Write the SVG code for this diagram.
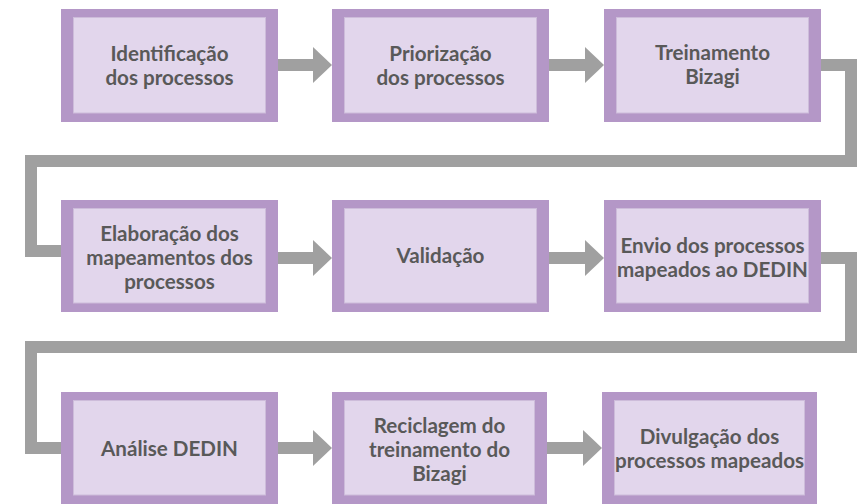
<svg xmlns="http://www.w3.org/2000/svg" width="857" height="504" viewBox="0 0 857 504">
<style>
.outer{fill:#b497c7}
.inner{fill:#e2d6ec;stroke:#cdbcda;stroke-width:1}
.lbl{font-family:Lato,"Liberation Sans",sans-serif;font-weight:700;font-size:20.6px;fill:#595959;text-anchor:middle}
.conn{fill:none;stroke:#a0a0a0;stroke-width:12;stroke-linejoin:miter;stroke-linecap:butt}
</style>
<defs>
<marker id="head" markerUnits="userSpaceOnUse" markerWidth="19" markerHeight="36" refX="0" refY="18" orient="auto" viewBox="0 0 19 36">
<path d="M0,0 L19,18 L0,36 Z" fill="#a0a0a0"/>
</marker>
</defs>
<rect width="857" height="504" fill="#ffffff"/>
<g id="connectors">
<line class="conn" x1="278" y1="65" x2="313" y2="65" marker-end="url(#head)"/>
<line class="conn" x1="549" y1="65" x2="585" y2="65" marker-end="url(#head)"/>
<polyline class="conn" points="821,65 851,65 851,161 31,161 31,251 62,251"/>
<line class="conn" x1="278" y1="258" x2="313" y2="258" marker-end="url(#head)"/>
<line class="conn" x1="549" y1="258" x2="585" y2="258" marker-end="url(#head)"/>
<polyline class="conn" points="821,258 851,258 851,347 31,347 31,448 62,448"/>
<line class="conn" x1="278" y1="448" x2="313" y2="448" marker-end="url(#head)"/>
<line class="conn" x1="547" y1="448" x2="583" y2="448" marker-end="url(#head)"/>
</g>
<g id="n1">
<rect class="outer" x="61" y="9" width="217" height="113"/>
<rect class="inner" x="73.5" y="17.5" width="192" height="95.5"/>
<text class="lbl" x="169.5" y="61">Identificação</text>
<text class="lbl" x="169.5" y="85">dos processos</text>
</g>
<g id="n2">
<rect class="outer" x="332" y="9" width="217" height="113"/>
<rect class="inner" x="344.5" y="17.5" width="192" height="95.5"/>
<text class="lbl" x="440.5" y="61">Priorização</text>
<text class="lbl" x="440.5" y="85">dos processos</text>
</g>
<g id="n3">
<rect class="outer" x="604" y="9" width="217" height="113"/>
<rect class="inner" x="616.5" y="17.5" width="192" height="95.5"/>
<text class="lbl" x="712.5" y="60">Treinamento</text>
<text class="lbl" x="712.5" y="84">Bizagi</text>
</g>
<g id="n4">
<rect class="outer" x="61" y="200" width="217" height="112"/>
<rect class="inner" x="73.5" y="208.5" width="192" height="94.5"/>
<text class="lbl" x="169.5" y="241">Elaboração dos</text>
<text class="lbl" x="169.5" y="265">mapeamentos dos</text>
<text class="lbl" x="169.5" y="289">processos</text>
</g>
<g id="n5">
<rect class="outer" x="332" y="200" width="217" height="112"/>
<rect class="inner" x="344.5" y="208.5" width="192" height="94.5"/>
<text class="lbl" x="440.5" y="263">Validação</text>
</g>
<g id="n6">
<rect class="outer" x="604" y="200" width="217" height="112"/>
<rect class="inner" x="616.5" y="208.5" width="192" height="94.5"/>
<text class="lbl" x="712.5" y="253">Envio dos processos</text>
<text class="lbl" x="712.5" y="277">mapeados ao DEDIN</text>
</g>
<g id="n7">
<rect class="outer" x="61" y="392" width="217" height="112"/>
<rect class="inner" x="73.5" y="400.5" width="192" height="94.5"/>
<text class="lbl" x="169.5" y="456">Análise DEDIN</text>
</g>
<g id="n8">
<rect class="outer" x="332" y="392" width="215" height="112"/>
<rect class="inner" x="344.5" y="400.5" width="190" height="94.5"/>
<text class="lbl" x="439.5" y="433">Reciclagem do</text>
<text class="lbl" x="439.5" y="457">treinamento do</text>
<text class="lbl" x="439.5" y="481">Bizagi</text>
</g>
<g id="n9">
<rect class="outer" x="602" y="392" width="215" height="112"/>
<rect class="inner" x="614.5" y="400.5" width="190" height="94.5"/>
<text class="lbl" x="709.5" y="444">Divulgação dos</text>
<text class="lbl" x="709.5" y="468">processos mapeados</text>
</g>
</svg>
